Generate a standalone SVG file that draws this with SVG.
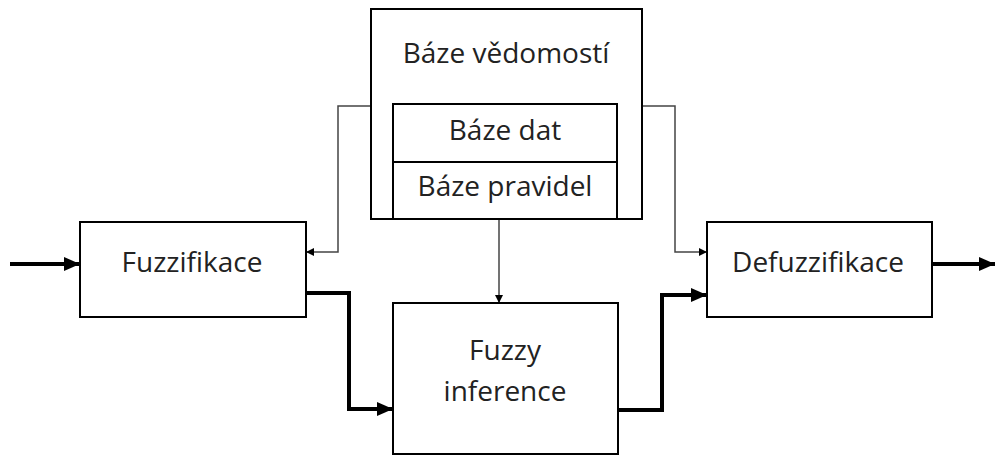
<svg xmlns="http://www.w3.org/2000/svg" width="995" height="455" viewBox="0 0 995 455">
<style>
.box{fill:#fff;stroke:#000;stroke-width:2}
.t{font-family:"Open Sans","Noto Sans","Liberation Sans",sans-serif;font-size:28px;fill:#222;text-anchor:middle}
.thin{fill:none;stroke:#444;stroke-width:1.5}
.thick{fill:none;stroke:#000;stroke-width:4}
</style>
<defs>
<marker id="ah" markerWidth="8" markerHeight="8" refX="8" refY="4" orient="auto" markerUnits="userSpaceOnUse"><path d="M0,0 L8,4 L0,8 Z" fill="#000"/></marker>
<marker id="AH" markerWidth="16" markerHeight="14" refX="16" refY="7" orient="auto" markerUnits="userSpaceOnUse"><path d="M0,0 L16,7 L0,14 Z" fill="#000"/></marker>
</defs>
<g id="connectors">
<path class="thin" d="M371,106 H338 V252 H306" marker-end="url(#ah)"/>
<path class="thin" d="M642,106 H675 V252 H707" marker-end="url(#ah)"/>
<path class="thin" d="M499,219 V303" stroke="#000" marker-end="url(#ah)"/>
<path class="thick" d="M10,264 H80" marker-end="url(#AH)"/>
<path class="thick" d="M306,293 H349 V409 H393" marker-end="url(#AH)"/>
<path class="thick" d="M618,410 H662 V295 H707" marker-end="url(#AH)"/>
<path class="thick" d="M932,264 H995" marker-end="url(#AH)"/>
</g>
<g id="baze-vedomosti">
<rect class="box" x="371" y="9" width="271" height="210"/>
<text class="t" x="506" y="63">Báze vědomostí</text>
</g>
<g id="baze-dat">
<rect class="box" x="393" y="104" width="224" height="58"/>
<text class="t" x="505" y="140">Báze dat</text>
</g>
<g id="baze-pravidel">
<rect class="box" x="393" y="162" width="224" height="57"/>
<text class="t" x="505" y="196">Báze pravidel</text>
</g>
<g id="fuzzifikace">
<rect class="box" x="80" y="222" width="226" height="95"/>
<text class="t" x="192" y="272">Fuzzifikace</text>
</g>
<g id="defuzzifikace">
<rect class="box" x="707" y="222" width="225" height="95"/>
<text class="t" x="818" y="272">Defuzzifikace</text>
</g>
<g id="fuzzy-inference">
<rect class="box" x="393" y="303" width="225" height="151"/>
<text class="t" x="505" y="360">Fuzzy</text>
<text class="t" x="505" y="401">inference</text>
</g>
</svg>
